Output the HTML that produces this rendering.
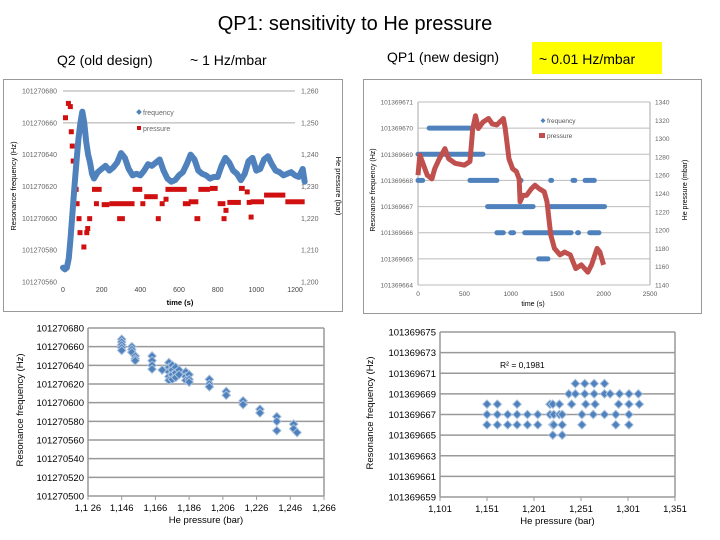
<!DOCTYPE html>
<html><head><meta charset="utf-8"><style>
body{margin:0;background:#fff;}
svg{display:block;font-family:"Liberation Sans",sans-serif;}
</style></head><body>
<svg id="s" width="720" height="540" xmlns="http://www.w3.org/2000/svg">
<text x="355" y="30" font-size="20" text-anchor="middle" fill="#000">QP1: sensitivity to He pressure</text>
<text x="57" y="65" font-size="14">Q2 (old design)</text>
<text x="190" y="65" font-size="14">~ 1 Hz/mbar</text>
<text x="387" y="62" font-size="14">QP1 (new design)</text>
<rect x="532" y="42" width="130" height="32" fill="#ffff00"/>
<text x="539" y="64" font-size="14">~ 0.01 Hz/mbar</text>
<g id="g1"></g>
<g id="g2"></g>
<g id="g3"></g>
<g id="g4"></g>
</svg>
<script>
// ---- Chart 1 data (Q2 time series) ----
const c1Time=[0,10,20,30,40,50,60,70,80,90,100,110,120,130,140,150,160,170,180,
200,220,240,260,280,300,320,340,360,380,400,420,440,460,480,500,520,540,560,580,
600,620,640,660,680,700,720,740,760,780,800,820,840,860,880,900,920,940,960,980,
1000,1020,1040,1060,1080,1100,1120,1140,1160,1180,1200,1220,1240,1250];
const c1Freq=[569,568,569,575,589,605,621,636,650,660,667,660,648,640,635,628,625,627,629,
631,633,630,632,635,641,638,631,627,628,627,630,634,633,635,637,630,625,623,624,
627,629,634,640,637,630,628,627,625,626,626,633,638,635,630,628,624,628,636,638,
630,631,637,639,634,630,629,627,628,629,627,626,631,623];
const c1PStart=[0,15,25,30,35,40,50,55,60,70,75,95,110,115,125,150,160,200,240,280,360,400,420,480,500,520,530,620,650,680,700,760,800,820,830,850,910,940,950,960,970,1040,1150];
const c1PEnd=[20,25,35,40,45,50,60,65,75,80,95,120,120,125,145,200,170,240,370,320,410,420,490,500,520,540,640,660,700,710,760,800,840,840,850,920,940,960,970,975,1040,1150,1250];
const c1PVal=[1.2516,1.2561,1.2551,1.2472,1.2427,1.2380,1.2336,1.2291,1.2246,1.2199,1.2155,1.2110,1.2155,1.2168,1.2199,1.2291,1.2246,1.2243,1.2246,1.2199,1.2291,1.2246,1.2268,1.2199,1.2246,1.2260,1.2291,1.2246,1.2252,1.2199,1.2291,1.2294,1.2246,1.2199,1.2225,1.2250,1.2294,1.2283,1.2250,1.2204,1.2252,1.2273,1.2252];
const c1XTicks=[0,200,400,600,800,1000,1200];
const c1YTicks=[560,580,600,620,640,660,680];
const c1RTicks=[1.20,1.21,1.22,1.23,1.24,1.25,1.26];
// ---- Chart 2 data (QP1 time series) ----
const c2FStart=[120,0,0,560,1100,1430,1670,1800,750,1430,850,1000,1150,1720,1850,1300];
const c2FEnd=[560,700,50,850,1110,1440,1690,1900,1240,2010,920,1030,1650,1730,1950,1400];
const c2FLevel=[670,669,668,668,668,668,668,668,667,667,666,666,666,666,666,665];
const c2PTime=[0,20,60,100,150,180,230,290,330,400,500,560,590,620,650,700,760,800,850,880,920,940,980,1020,1060,1090,1100,1130,1170,1220,1260,1310,1360,1390,1430,1470,1530,1580,1640,1700,1760,1830,1870,1930,1960,2000];
const c2PVal=[1260,1282,1271,1260,1256,1267,1278,1289,1278,1273,1271,1275,1311,1325,1311,1318,1322,1316,1315,1318,1322,1311,1278,1267,1264,1256,1231,1238,1238,1245,1249,1245,1242,1231,1195,1180,1173,1176,1173,1158,1162,1154,1162,1180,1176,1162];
const c2XTicks=[0,500,1000,1500,2000,2500];
const c2YTicks=[664,665,666,667,668,669,670,671];
const c2RTicks=[1140,1160,1180,1200,1220,1240,1260,1280,1300,1320,1340];
// ---- Chart 3 data (Q2 scatter) ----
const c3P=[1.146,1.146,1.146,1.146,1.146,1.152,1.152,1.152,1.154,1.154,1.154,1.164,1.164,1.164,1.164,1.170,1.174,1.174,1.174,1.174,1.174,1.176,1.176,1.176,1.176,1.178,1.178,1.178,1.180,1.180,1.184,1.184,1.184,1.186,1.186,1.186,1.198,1.198,1.198,1.208,1.208,1.218,1.218,1.228,1.228,1.238,1.238,1.238,1.248,1.248,1.250];
const c3F=[668,665,662,659,656,660,657,654,650,647,645,650,645,640,636,635,643,638,633,628,624,640,635,630,625,638,632,627,635,630,633,628,624,630,625,622,625,620,617,612,608,602,598,593,589,585,580,570,577,572,568];
const c3XTicks=[1.126,1.146,1.166,1.186,1.206,1.226,1.246,1.266];
const c3XLabels=["1,1 26","1,146","1,166","1,186","1,206","1,226","1,246","1,266"];
const c3YTicks=[500,520,540,560,580,600,620,640,660,680];
// ---- Chart 4 data (QP1 scatter) ----
const c4P=[1.245,1.255,1.265,1.276,1.238,1.245,1.255,1.265,1.276,1.282,1.292,1.302,1.312,1.151,1.162,1.183,1.218,1.221,1.228,1.241,1.256,1.266,1.291,1.302,1.313,1.151,1.162,1.173,1.183,1.194,1.205,1.218,1.222,1.228,1.231,1.252,1.264,1.276,1.288,1.302,1.151,1.162,1.173,1.183,1.194,1.205,1.221,1.222,1.231,1.252,1.288,1.302,1.221,1.231];
const c4F=[670,670,670,670,669,669,669,669,669,669,669,669,669,668,668,668,668,668,668,668,668,668,668,668,668,667,667,667,667,667,667,667,667,667,667,667,667,667,667,667,666,666,666,666,666,666,666,666,666,666,666,666,665,665];
const c4XTicks=[1.101,1.151,1.201,1.251,1.301,1.351];
const c4XLabels=["1,101","1,151","1,201","1,251","1,301","1,351"];
const c4YTicks=[659,661,663,665,667,669,671,673,675];

const NS="http://www.w3.org/2000/svg";
function mk(parent,tag,attrs,text){const e=document.createElementNS(NS,tag);for(const k in attrs)e.setAttribute(k,attrs[k]);if(text!==undefined)e.textContent=text;parent.appendChild(e);return e;}
function lin(d0,d1,r0,r1){return v=>r0+(v-d0)/(d1-d0)*(r1-r0);}
function fmtc(v,n){return v.toFixed(n).replace('.',',');}

// ===== Chart 1 =====
(function(){
const g=document.getElementById('g1');
const fr=mk(g,'rect',{x:3.5,y:79.5,width:339,height:232,fill:'#fff',stroke:'#999'});

const x=lin(0,1200,63,295), y=lin(560,680,282,91), yr=lin(1.20,1.26,282,91);
for(const t of c1YTicks){
 const l=mk(g,'line',{x1:63,x2:295,y1:y(t),y2:y(t),stroke:(t==660||t==680)?'#aaa':'none'});
 
 const tx=mk(g,'text',{x:57,y:y(t)+2.5,'font-size':7,'text-anchor':'end',fill:'#666'},'101270'+t);
 
}
for(const t of c1RTicks){
 const tx=mk(g,'text',{x:301,y:yr(t)+2.5,'font-size':7,fill:'#666'},fmtc(t,3));
 
}
for(const t of c1XTicks){
 const tx=mk(g,'text',{x:x(t),y:292,'font-size':7,'text-anchor':'middle',fill:'#444'},t);
 
}
for(let i=0;i<c1PStart.length;i++){
 const r=mk(g,'rect',{x:x(c1PStart[i]),y:yr(c1PVal[i])-2.5,width:Math.max(5,x(c1PEnd[i])-x(c1PStart[i])),height:5,fill:'#d01010'});
 
}
const pts=c1Time.map((t,i)=>x(t)+','+y(c1Freq[i])).join(' ');
const pl=mk(g,'polyline',{points:pts,fill:'none',stroke:'#4f81bd','stroke-width':6,'stroke-linejoin':'round','stroke-linecap':'round'});

const l1=mk(g,'rect',{x:137,y:110,width:4,height:4,fill:'#4f81bd',transform:'rotate(45 139 112)'});
const l2=mk(g,'text',{x:143,y:115,'font-size':7,fill:'#666'},'frequency');
const l3=mk(g,'rect',{x:137,y:126,width:4,height:4,fill:'#d01010'});
const l4=mk(g,'text',{x:143,y:131,'font-size':7,fill:'#666'},'pressure');
const a1=mk(g,'text',{x:180,y:305,'font-size':7.5,'text-anchor':'middle','font-weight':'bold'},'time (s)');
const a2=mk(g,'text',{x:0,y:0,'font-size':7.5,'text-anchor':'middle',transform:'translate(16,186) rotate(-90)'},'Resonance frequency (Hz)');
const a3=mk(g,'text',{x:0,y:0,'font-size':7.5,'text-anchor':'middle',transform:'translate(336,186) rotate(90)'},'He pressure (bar)');
})();

// ===== Chart 2 =====
(function(){
const g=document.getElementById('g2');
const fr=mk(g,'rect',{x:363.5,y:79.5,width:338,height:234,fill:'#fff',stroke:'#999'});

const x=lin(0,2500,418,650), y=lin(664,671,285,102), yr=lin(1140,1340,285,102);
const ax=mk(g,'line',{x1:418,x2:418,y1:102,y2:285,stroke:'#aaa'});
const ax2=mk(g,'line',{x1:650,x2:650,y1:102,y2:285,stroke:'#aaa'});
for(const t of c2YTicks){
 const l=mk(g,'line',{x1:418,x2:650,y1:y(t),y2:y(t),stroke:'#bbb'});
 
 const tx=mk(g,'text',{x:413,y:y(t)+2.5,'font-size':6.5,'text-anchor':'end',fill:'#666'},'101369'+t);
 
}
for(const t of c2RTicks){
 const tx=mk(g,'text',{x:655,y:yr(t)+2.5,'font-size':6.5,fill:'#666'},t);
 
}
for(const t of c2XTicks){
 const tx=mk(g,'text',{x:x(t),y:296,'font-size':6.5,'text-anchor':'middle',fill:'#555'},t);
 
}
for(let i=0;i<c2FStart.length;i++){
 const l=mk(g,'line',{x1:x(c2FStart[i]),x2:x(c2FEnd[i]),y1:y(c2FLevel[i]),y2:y(c2FLevel[i]),stroke:'#4f81bd','stroke-width':5,'stroke-linecap':'round'});
 
}
const pts=c2PTime.map((t,i)=>x(t)+','+yr(c2PVal[i])).join(' ');
const pl=mk(g,'polyline',{points:pts,fill:'none',stroke:'#c0504d','stroke-width':5,'stroke-linejoin':'round'});

const l1=mk(g,'rect',{x:541,y:119,width:3.5,height:3.5,fill:'#4f81bd',transform:'rotate(45 543 121)'});
const l2=mk(g,'text',{x:547,y:123,'font-size':6.5,fill:'#555'},'frequency');
const l3=mk(g,'rect',{x:539,y:133,width:6,height:5,fill:'#c0504d'});
const l4=mk(g,'text',{x:547,y:138,'font-size':6.5,fill:'#555'},'pressure');
const a1=mk(g,'text',{x:533,y:306,'font-size':7,'text-anchor':'middle'},'time (s)');
const a2=mk(g,'text',{x:0,y:0,'font-size':7,'text-anchor':'middle',transform:'translate(375,190) rotate(-90)'},'Resonance frequency (Hz)');
const a3=mk(g,'text',{x:0,y:0,'font-size':7,'text-anchor':'middle',transform:'translate(687,190) rotate(-90)'},'He pressure (mbar)');
})();

function scatter(id,P,F,xt,xl,yt,x0,x1,px0,px1,y0,y1,py0,py1,prefix){
 const g=document.getElementById(id);
 const x=lin(x0,x1,px0,px1), y=lin(y0,y1,py0,py1);
 for(const t of yt){
  const l=mk(g,'line',{x1:px0,x2:px1,y1:y(t),y2:y(t),stroke:'#999','stroke-width':1.5});
  
  const tx=mk(g,'text',{x:px0-4,y:y(t)+3.5,'font-size':9.5,'text-anchor':'end'},prefix+t);
  
 }
 const la=mk(g,'line',{x1:px0,x2:px0,y1:py1,y2:py0,stroke:'#999','stroke-width':1.5});
 const ra=mk(g,'line',{x1:px1,x2:px1,y1:py1,y2:py0,stroke:'#999','stroke-width':1.5});
 xt.forEach((t,i)=>{
  const tk=mk(g,'line',{x1:x(t),x2:x(t),y1:py0,y2:py0+4,stroke:'#999'});
  const tx=mk(g,'text',{x:x(t),y:py0+15,'font-size':9.5,'text-anchor':'middle'},xl[i]);
  
 });
 P.forEach((p,i)=>{
  const cx=x(p),cy=y(F[i]);
  const d=mk(g,'rect',{x:cx-3,y:cy-3,width:6,height:6,fill:'#4f81bd',stroke:'#a7c0de','stroke-width':1,transform:`rotate(45 ${cx} ${cy})`});
  
 });
 const a1=mk(g,'text',{x:(px0+px1)/2,y:py0+27,'font-size':9.5,'text-anchor':'middle'},'He pressure (bar)');
 return {g,x,y};
}
// ===== Chart 3 =====
(function(){
 const r=scatter('g3',c3P,c3F,c3XTicks,c3XLabels,c3YTicks,1.126,1.266,88,324,500,680,496,328,'101270');
 const a2=mk(r.g,'text',{x:0,y:0,'font-size':9.5,'text-anchor':'middle',transform:'translate(23,410) rotate(-90)'},'Resonance frequency (Hz)');
})();
// ===== Chart 4 =====
(function(){
 const r=scatter('g4',c4P,c4F,c4XTicks,c4XLabels,c4YTicks,1.101,1.351,440,675,659,675,497,332,'101369');
 const a2=mk(r.g,'text',{x:0,y:0,'font-size':9.5,'text-anchor':'middle',transform:'translate(373,413) rotate(-90)'},'Resonance frequency (Hz)');
 const rr=mk(r.g,'text',{x:500,y:368,'font-size':8.5},'R² = 0,1981');
})();
</script>
</body></html>
